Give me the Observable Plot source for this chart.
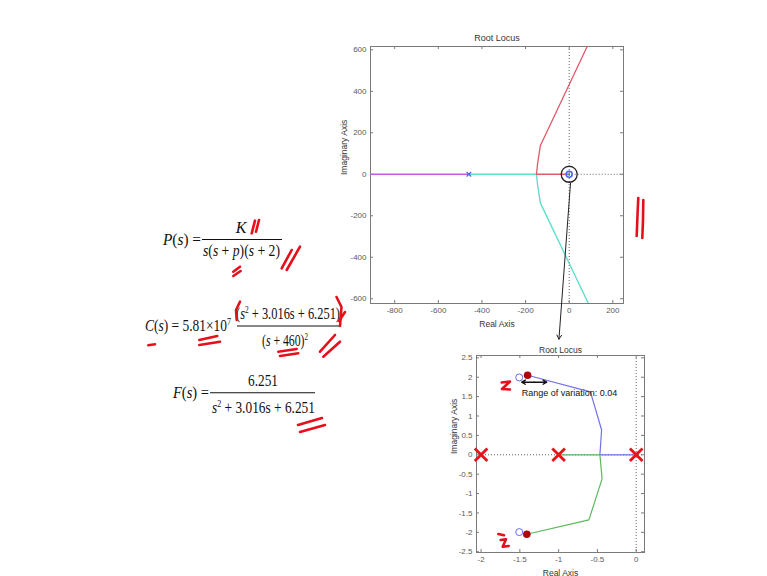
<!DOCTYPE html>
<html><head><meta charset="utf-8">
<script src="https://cdn.jsdelivr.net/npm/d3@7"></script>
<script src="https://cdn.jsdelivr.net/npm/@observablehq/plot@0.6"></script>
<style>
html,body{margin:0;padding:0;background:#fff;}
#slide{position:relative;width:767px;height:576px;overflow:hidden;background:#fff;}
.layer{position:absolute;}
</style></head><body><div id="slide"></div>
<script>
// ---------------- data ----------------
const plotTitle = "Root Locus";
const xLabel = "Real Axis";
const yLabel = "Imaginary Axis";

// wide root locus (top)
const wideXTicks = [-800, -600, -400, -200, 0, 200];
const wideYTicks = [-600, -400, -200, 0, 200, 400, 600];
const wideXDomain = [-911, 249];
const wideYDomain = [-623, 616];
const wideMagenta = [{re: -911, im: 0}, {re: -460, im: 0}];
const wideCyan = [{re: -460, im: 0}, {re: -150, im: 0}, {re: -145, im: -50}, {re: -132, im: -139}, {re: 88, im: -623}];
const wideRed = [{re: 0, im: 0}, {re: -150, im: 0}, {re: -145, im: 50}, {re: -132, im: 139}, {re: 82.5, im: 616}];
const widePoles = [{re: -460, im: 0}];
const wideOrigin = [{re: 0, im: 0}];
const wideArrow = [{re1: 6, im1: -44, re2: -47, im2: -795}];

// zoomed root locus (bottom)
const zoomXTicks = [-2, -1.5, -1, -0.5, 0];
const zoomYTicks = [-2.5, -2, -1.5, -1, -0.5, 0, 0.5, 1, 1.5, 2, 2.5];
const zoomXDomain = [-2.059, 0.107];
const zoomYDomain = [-2.52, 2.56];
const zoomBlue = [{re: 0, im: 0}, {re: -0.468, im: 0}, {re: -0.446, im: 0.64}, {re: -0.59, im: 1.62}, {re: -1.40, im: 2.05}];
const zoomGreen = [{re: -1, im: 0}, {re: -0.468, im: 0}, {re: -0.44, im: -0.62}, {re: -0.61, im: -1.68}, {re: -1.41, im: -2.05}];
const zoomZeros = [{re: -1.508, im: 1.994}, {re: -1.508, im: -1.994}];
const zoomChosen = [{re: -1.40, im: 2.05}, {re: -1.41, im: -2.05}];
const zoomPolesMarked = [{re: -2, im: 0}, {re: -1, im: 0}, {re: 0, im: 0}];
const rangeNote = "Range of variation: 0.04";
const rangeNotePos = [{re: -1.476, im: 1.593}];
const rangeArrows = [{re1: -1.315, re2: -1.476, im: 1.872}, {re1: -1.315, re2: -1.154, im: 1.872}];

// ---------------- helpers ----------------
function boxMarks(xDomain, yDomain, xTicks, yTicks, iw, ih, zeroFrom) {
  const tx = 3 * (yDomain[1] - yDomain[0]) / ih;
  const ty = 3 * (xDomain[1] - xDomain[0]) / iw;
  const st = {stroke: "#7a7a7a", strokeWidth: 1};
  return [
    Plot.ruleX([0], {stroke: "#666", strokeDasharray: "1,2"}),
    Plot.ruleY([0], {x1: zeroFrom, x2: xDomain[1], stroke: "#666", strokeDasharray: "1,2"}),
    Plot.ruleX(xTicks, {x: d => d, y1: yDomain[0], y2: yDomain[0] + tx, ...st}),
    Plot.ruleX(xTicks, {x: d => d, y1: yDomain[1] - tx, y2: yDomain[1], ...st}),
    Plot.ruleY(yTicks, {y: d => d, x1: xDomain[0], x2: xDomain[0] + ty, ...st}),
    Plot.ruleY(yTicks, {y: d => d, x1: xDomain[1] - ty, x2: xDomain[1], ...st}),
    Plot.frame({stroke: "#7a7a7a", strokeWidth: 1}),
    Plot.text(xTicks, {x: d => d, frameAnchor: "bottom", dy: 9, text: d => String(d), fontSize: 8, fill: "#5a5a5a"}),
    Plot.text(yTicks, {y: d => d, frameAnchor: "left", dx: -4, textAnchor: "end", text: d => String(d), fontSize: 8, fill: "#5a5a5a"})
  ];
}

const slide = document.getElementById("slide");
function place(el, left, top) {
  el.classList.add("layer");
  el.style.left = left + "px";
  el.style.top = top + "px";
  slide.appendChild(el);
}

// ---------------- top plot ----------------
{
  const W = 300, H = 312, m = {l: 40, r: 7, t: 18, b: 37};
  const iw = W - m.l - m.r, ih = H - m.t - m.b;
  const p = Plot.plot({
    width: W, height: H,
    marginLeft: m.l, marginRight: m.r, marginTop: m.t, marginBottom: m.b,
    x: {domain: wideXDomain, axis: null},
    y: {domain: wideYDomain, axis: null},
    style: {fontFamily: "Liberation Sans, Arial, sans-serif", background: "transparent", overflow: "visible"},
    marks: [
      ...boxMarks(wideXDomain, wideYDomain, wideXTicks, wideYTicks, iw, ih, 0),
      Plot.line(wideMagenta, {x: "re", y: "im", stroke: "#c75ae0", strokeWidth: 1.5, clip: true}),
      Plot.line(wideCyan, {x: "re", y: "im", stroke: "#5fe0cc", strokeWidth: 1.4, clip: true}),
      Plot.line(wideRed, {x: "re", y: "im", stroke: "#e05a68", strokeWidth: 1.3, clip: true}),
      Plot.dot(widePoles, {x: "re", y: "im", symbol: "times", r: 2.2, stroke: "#5060ff", strokeWidth: 1.2}),
      Plot.dot(wideOrigin, {x: "re", y: "im", r: 3, stroke: "#5060ff", strokeWidth: 1.6}),
      Plot.dot(wideOrigin, {x: "re", y: "im", r: 1, fill: "#2aa84a", stroke: null}),
      Plot.dot(wideOrigin, {x: "re", y: "im", r: 8, stroke: "#222", strokeWidth: 1.3}),
      Plot.arrow(wideArrow, {x1: "re1", y1: "im1", x2: "re2", y2: "im2", stroke: "#222", strokeWidth: 1, headLength: 7}),
      Plot.text([plotTitle], {frameAnchor: "top", dy: -12, fontSize: 9, fill: "#333"}),
      Plot.text([xLabel], {frameAnchor: "bottom", dy: 23, fontSize: 8.5, fill: "#333"}),
      Plot.text([yLabel], {frameAnchor: "left", dx: -26, rotate: -90, fontSize: 8.5, fill: "#333"})
    ]
  });
  place(p, 330, 28);
}

// ---------------- bottom plot ----------------
{
  const W = 210, H = 240, m = {l: 36, r: 6, t: 19, b: 24};
  const iw = W - m.l - m.r, ih = H - m.t - m.b;
  const p = Plot.plot({
    width: W, height: H,
    marginLeft: m.l, marginRight: m.r, marginTop: m.t, marginBottom: m.b,
    x: {domain: zoomXDomain, axis: null},
    y: {domain: zoomYDomain, axis: null},
    style: {fontFamily: "Liberation Sans, Arial, sans-serif", background: "transparent", overflow: "visible"},
    marks: [
      ...boxMarks(zoomXDomain, zoomYDomain, zoomXTicks, zoomYTicks, iw, ih, zoomXDomain[0]),
      Plot.line(zoomBlue, {x: "re", y: "im", stroke: "#7272e6", strokeWidth: 1.2}),
      Plot.line(zoomGreen, {x: "re", y: "im", stroke: "#5db85d", strokeWidth: 1.2}),
      Plot.dot(zoomZeros, {x: "re", y: "im", r: 3.5, stroke: "#6a6ae6", strokeWidth: 1}),
      Plot.dot(zoomChosen, {x: "re", y: "im", r: 3.8, fill: "#b0000e", stroke: null}),
      Plot.dot(zoomPolesMarked, {x: "re", y: "im", symbol: "times", r: 5.8, stroke: "#e8121c", strokeWidth: 2.8}),
      Plot.arrow(rangeArrows, {x1: "re1", y1: "im", x2: "re2", y2: "im", stroke: "#111", strokeWidth: 1.4, headLength: 5}),
      Plot.text(rangeNotePos, {x: "re", y: "im", text: () => rangeNote, textAnchor: "start", fontSize: 9, fill: "#111"}),
      Plot.text([plotTitle], {frameAnchor: "top", dy: -9, fontSize: 8.5, fill: "#333"}),
      Plot.text([xLabel], {frameAnchor: "bottom", dy: 23, fontSize: 8.5, fill: "#333"}),
      Plot.text([yLabel], {frameAnchor: "left", dx: -22, rotate: -90, fontSize: 8.5, fill: "#333"})
    ]
  });
  place(p, 440, 336);
}

// ---------------- equations & hand annotations overlay ----------------
const ov = d3.create("svg").attr("width", 767).attr("height", 576).style("overflow", "visible");
place(ov.node(), 0, 0);

function mathText({x, y, w, anchor = "start", size = 16, parts}) {
  const t = ov.append("text").attr("x", x).attr("y", y).attr("text-anchor", anchor)
    .attr("font-family", "Liberation Serif, Times New Roman, serif").attr("font-size", size)
    .attr("fill", "#111").style("white-space", "pre");
  if (w) t.attr("textLength", w).attr("lengthAdjust", "spacingAndGlyphs");
  let up = false;
  for (const [s, k] of parts) {
    const ts = t.append("tspan").text(s);
    if (k.includes("i")) ts.attr("font-style", "italic");
    if (k.includes("^")) { ts.attr("font-size", size * 0.6).attr("dy", -size * 0.4); up = true; }
    else if (up) { ts.attr("dy", size * 0.4); up = false; }
  }
}
function fracLine(x1, x2, y) {
  ov.append("line").attr("x1", x1).attr("x2", x2).attr("y1", y).attr("y2", y).attr("stroke", "#111").attr("stroke-width", 1.1);
}

// P(s)
mathText({x: 163, y: 245, w: 38, parts: [["P", "i"], ["(", ""], ["s", "i"], [") =", ""]]});
mathText({x: 241, y: 233, anchor: "middle", parts: [["K", "i"]]});
fracLine(202, 282, 239.5);
mathText({x: 203, y: 256, w: 77, parts: [["s", "i"], ["(", ""], ["s", "i"], [" + ", ""], ["p", "i"], [")(", ""], ["s", "i"], [" + 2)", ""]]});
// C(s)
mathText({x: 145, y: 331, w: 86, parts: [["C", "i"], ["(", ""], ["s", "i"], [") = 5.81×10", ""], ["7", "^"]]});
mathText({x: 236, y: 319, w: 104, parts: [["(", ""], ["s", "i"], ["2", "^"], [" + 3.016s + 6.251)", ""]]});
fracLine(237, 340, 326);
mathText({x: 262, y: 346, w: 46, parts: [["(", ""], ["s", "i"], [" + 460)", ""], ["2", "^"]]});
// F(s)
mathText({x: 173, y: 398, w: 36, parts: [["F", "i"], ["(", ""], ["s", "i"], [") =", ""]]});
mathText({x: 248, y: 386, w: 30, parts: [["6.251", ""]]});
fracLine(210, 315, 392.7);
mathText({x: 212, y: 413, w: 103, parts: [["s", "i"], ["2", "^"], [" + 3.016s + 6.251", ""]]});

// red freehand strokes (pixel paths)
const redStrokes = [
  [[251.7, 233.3], [255, 220.7]],
  [[256, 231.7], [259, 220]],
  [[281.7, 268.3], [291.7, 250]],
  [[286.7, 270], [300, 246.7]],
  [[233.3, 271.7], [240, 266.7]],
  [[233.3, 276], [240.7, 271]],
  [[148.3, 345.3], [155, 344.3]],
  [[199.3, 340], [217.3, 336]],
  [[199.3, 345], [220, 341.7]],
  [[240, 301.7], [236, 310], [236.7, 320]],
  [[336.5, 297], [341.5, 307], [340, 326]],
  [[339, 321], [345, 312]],
  [[278.3, 351.7], [296.7, 349]],
  [[280, 356], [298.3, 353.3]],
  [[320, 351.7], [335, 335]],
  [[323.3, 356.7], [340, 341.7]],
  [[298, 425], [322, 418]],
  [[300, 432], [325, 425]],
  [[638.3, 198], [637.5, 215], [636.7, 236]],
  [[643.3, 200], [643, 220], [642.3, 238]],
  [[501.7, 382.5], [510, 381.5], [502, 389], [510, 389.5]],
  [[498.3, 534], [504, 535.3]],
  [[500.7, 540], [506, 539.3], [502.7, 546.7], [508.7, 546]]
];
const lineGen = d3.line();
for (const s of redStrokes) {
  ov.append("path").attr("d", lineGen(s)).attr("fill", "none").attr("stroke", "#e5101b")
    .attr("stroke-width", 2.6).attr("stroke-linecap", "round").attr("stroke-linejoin", "round");
}
</script>
</body></html>
